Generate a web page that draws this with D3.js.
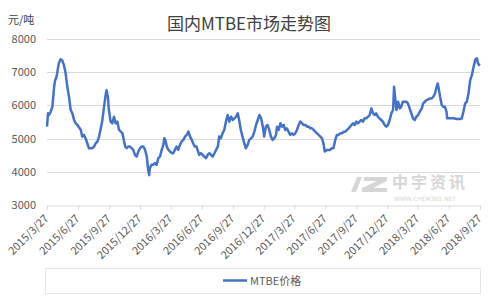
<!DOCTYPE html>
<html>
<head>
<meta charset="utf-8">
<script src="https://cdn.jsdelivr.net/npm/d3@7/dist/d3.min.js"></script>
<style>
  html, body { margin: 0; padding: 0; background: #fff; }
  #chart { width: 499px; height: 299px; }
</style>
</head>
<body>
<div id="chart"></div>
<script>
// dates of each reading (YYYY-MM-DD)
const dates = [
  '2015-03-27','2015-03-30','2015-04-02','2015-04-07','2015-04-12','2015-04-17','2015-04-20','2015-04-23','2015-04-26','2015-05-01',
  '2015-05-06','2015-05-11','2015-05-16','2015-05-21','2015-05-26','2015-05-31','2015-06-05','2015-06-10','2015-06-15','2015-06-20',
  '2015-06-25','2015-07-05','2015-07-09','2015-07-14','2015-07-19','2015-07-24','2015-07-29','2015-08-08','2015-08-13','2015-08-18',
  '2015-08-23','2015-08-28','2015-09-02','2015-09-06','2015-09-11','2015-09-17','2015-09-19','2015-09-23','2015-09-26','2015-10-01',
  '2015-10-06','2015-10-11','2015-10-16','2015-10-21','2015-10-26','2015-10-31','2015-11-05','2015-11-13','2015-11-18','2015-11-22',
  '2015-11-27','2015-12-02','2015-12-07','2015-12-12','2015-12-17','2015-12-22','2015-12-27','2016-01-01','2016-01-06','2016-01-11',
  '2016-01-16','2016-01-20','2016-01-23','2016-01-25','2016-01-30','2016-02-04','2016-02-09','2016-02-14','2016-02-19','2016-02-24',
  '2016-02-29','2016-03-05','2016-03-08','2016-03-12','2016-03-15','2016-03-20','2016-03-25','2016-03-30','2016-04-03','2016-04-08',
  '2016-04-13','2016-04-18','2016-04-23','2016-04-28','2016-05-03','2016-05-08','2016-05-13','2016-05-18','2016-05-23','2016-05-28',
  '2016-06-01','2016-06-06','2016-06-11','2016-06-14','2016-06-19','2016-06-24','2016-06-29','2016-07-04','2016-07-09','2016-07-14',
  '2016-07-19','2016-07-24','2016-07-29','2016-08-03','2016-08-08','2016-08-13','2016-08-17','2016-08-22','2016-08-27','2016-09-01',
  '2016-09-06','2016-09-11','2016-09-16','2016-09-21','2016-09-26','2016-10-01','2016-10-06','2016-10-11','2016-10-15','2016-10-20',
  '2016-10-25','2016-10-30','2016-11-04','2016-11-09','2016-11-14','2016-11-19','2016-11-24','2016-11-29','2016-12-04','2016-12-09',
  '2016-12-14','2016-12-19','2016-12-24','2016-12-28','2017-01-02','2017-01-07','2017-01-12','2017-01-17','2017-01-22','2017-01-27',
  '2017-02-01','2017-02-04','2017-02-09','2017-02-14','2017-02-19','2017-02-24','2017-02-28','2017-03-05','2017-03-10','2017-03-15',
  '2017-03-20','2017-03-25','2017-03-30','2017-04-04','2017-04-09','2017-04-14','2017-04-19','2017-04-24','2017-04-29','2017-05-04',
  '2017-05-09','2017-05-13','2017-05-18','2017-05-23','2017-05-28','2017-06-02','2017-06-07','2017-06-12','2017-06-17','2017-06-22',
  '2017-06-25','2017-07-02','2017-07-07','2017-07-11','2017-07-16','2017-07-21','2017-07-26','2017-07-31','2017-08-05','2017-08-10',
  '2017-08-15','2017-08-20','2017-08-25','2017-08-30','2017-09-04','2017-09-12','2017-09-17','2017-09-22','2017-09-26','2017-10-01',
  '2017-10-06','2017-10-11','2017-10-16','2017-10-21','2017-10-26','2017-10-31','2017-11-05','2017-11-10','2017-11-15','2017-11-20',
  '2017-11-24','2017-11-29','2017-12-04','2017-12-09','2017-12-14','2017-12-19','2017-12-24','2017-12-29','2018-01-03','2018-01-08',
  '2018-01-13','2018-01-16','2018-01-19','2018-01-23','2018-01-28','2018-02-02','2018-02-06','2018-02-11','2018-02-16','2018-02-21',
  '2018-02-26','2018-03-03','2018-03-08','2018-03-13','2018-03-18','2018-03-23','2018-03-28','2018-04-02','2018-04-08','2018-04-12',
  '2018-04-17','2018-04-22','2018-04-27','2018-05-02','2018-05-07','2018-05-12','2018-05-17','2018-05-22','2018-05-25','2018-05-28',
  '2018-06-01','2018-06-06','2018-06-10','2018-06-15','2018-06-20','2018-06-22','2018-06-30','2018-07-10','2018-07-20','2018-07-30',
  '2018-08-04','2018-08-09','2018-08-14','2018-08-19','2018-08-24','2018-08-29','2018-09-03','2018-09-08','2018-09-13','2018-09-18',
  '2018-09-21','2018-09-24','2018-09-27'
];

// MTBE价格, 元/吨
const prices = [
  5360,5760,5710,5810,5960,6560,6760,6820,6970,7270,
  7390,7350,7220,6970,6560,6260,5860,5760,5560,5460,
  5410,5260,5060,5110,5010,4860,4710,4710,4760,4860,
  4910,5060,5310,5510,5910,6360,6460,6260,5860,5510,
  5460,5660,5460,5510,5260,5210,5160,4760,4710,4760,
  4760,4710,4660,4510,4460,4610,4710,4760,4760,4660,
  4460,4060,3900,4110,4210,4210,4260,4210,4410,4460,
  4660,4810,5010,4910,4760,4660,4610,4560,4560,4660,
  4760,4660,4810,4910,4960,5060,5110,5210,5060,4960,
  4860,4760,4760,4660,4510,4560,4510,4460,4410,4510,
  4560,4510,4460,4560,4660,4760,5060,5010,5160,5260,
  5510,5710,5510,5660,5560,5610,5660,5760,5560,5260,
  5060,4860,4710,4810,4960,5010,5060,5210,5410,5560,
  5710,5610,5360,5060,5360,5410,5260,5060,4960,5010,
  5110,5360,5260,5460,5360,5410,5260,5310,5210,5110,
  5160,5110,5160,5260,5410,5510,5460,5410,5410,5360,
  5360,5310,5310,5260,5210,5160,5110,5060,5010,4810,
  4610,4660,4660,4660,4710,4710,4960,5110,5110,5160,
  5160,5210,5210,5260,5310,5410,5460,5410,5510,5460,
  5510,5560,5510,5610,5610,5660,5710,5910,5760,5710,
  5760,5660,5610,5560,5510,5410,5360,5410,5560,5760,
  5860,6560,6260,5860,6110,5910,5960,6110,6110,6110,
  6060,5910,5760,5610,5560,5660,5710,5810,5910,6060,
  6110,6160,6180,6210,6210,6260,6360,6560,6660,6510,
  6260,6010,5960,5960,5810,5610,5610,5610,5590,5590,
  5610,5810,6060,6110,6360,6760,6910,7160,7370,7420,
  7270,7220,7200
];

const yTicks = [3000, 4000, 5000, 6000, 7000, 8000];
const xTicks = [
  '2015-03-27','2015-06-27','2015-09-27','2015-12-27','2016-03-27','2016-06-27','2016-09-27',
  '2016-12-27','2017-03-27','2017-06-27','2017-09-27','2017-12-27','2018-03-27','2018-06-27','2018-09-27'
];

const parse = d3.timeParse('%Y-%m-%d');
const data = dates.map((d, i) => ({ date: parse(d), v: prices[i] }));

const totalW = 499, totalH = 299;
const margin = { top: 39, right: 19, bottom: 94, left: 47 };
const W = totalW - margin.left - margin.right;
const H = totalH - margin.top - margin.bottom;

const font = "'Noto Sans CJK SC', 'Noto Sans', sans-serif";

const svg = d3.select('#chart').append('svg')
  .attr('width', totalW).attr('height', totalH)
  .style('font-family', font);

svg.append('rect').attr('width', totalW).attr('height', totalH).attr('fill', '#fff');

const g = svg.append('g').attr('transform', `translate(${margin.left},${margin.top})`);

const x = d3.scaleTime().domain([parse(xTicks[0]), parse(xTicks[xTicks.length - 1])]).range([0, W]);
const y = d3.scaleLinear().domain([3000, 8000]).range([H, 0]);

// Grid
g.append('g').selectAll('line')
  .data(yTicks.slice(1)).enter().append('line')
  .attr('x1', 0).attr('x2', W)
  .attr('y1', d => Math.round(y(d)) + 0.5).attr('y2', d => Math.round(y(d)) + 0.5)
  .attr('stroke', '#d9d9d9').attr('stroke-width', 1);

// Y axis labels
const yAxis = g.append('g').call(d3.axisLeft(y).tickValues(yTicks).tickSize(0).tickPadding(11).tickFormat(d3.format('d')));
yAxis.select('.domain').remove();
yAxis.selectAll('text').attr('fill', '#595959').attr('font-size', '11px').attr('font-family', font);

// X axis
const xAxis = g.append('g').attr('transform', `translate(0,${Math.round(H) + 0.5})`)
  .call(d3.axisBottom(x).tickValues(xTicks.map(parse)).tickSize(4).tickFormat(d3.timeFormat('%Y/%-m/%-d')));
xAxis.select('.domain').attr('stroke', '#d9d9d9');
xAxis.selectAll('line').attr('stroke', '#d9d9d9');
xAxis.selectAll('text')
  .attr('fill', '#595959').attr('font-size', '11px').attr('font-family', font)
  .attr('text-anchor', 'end')
  .attr('dy', '0.35em')
  .attr('transform', 'translate(-1,11) rotate(-45)')
  .attr('x', 0).attr('y', 0);

// Watermark
const wm = svg.append('g').attr('fill', '#d6d6d6');
wm.append('path').attr('d',
  'M357,177 L362,177 L356,192 L351,192 Z ' +
  'M364,177 L387,177 L387,181 L373,188 L387,188 L387,192 L362,192 L362,188 L377,181 L364,181 Z');
wm.append('text').attr('x', 392).attr('y', 188)
  .attr('font-size', '16px').attr('font-weight', 'bold').attr('letter-spacing', '3px').text('中宇资讯');
wm.append('text').attr('x', 394).attr('y', 201)
  .attr('font-size', '6px').attr('font-family', "'DejaVu Sans', sans-serif").text('WWW.CHEM365.NET');

// Line
const line = d3.line().x(d => x(d.date)).y(d => y(d.v));
g.append('path').datum(data)
  .attr('fill', 'none').attr('stroke', '#4472c4')
  .attr('stroke-width', 2.5).attr('stroke-linejoin', 'round')
  .attr('d', line);

// Title
svg.append('text').attr('x', 249).attr('y', 30)
  .attr('text-anchor', 'middle').attr('fill', '#404040')
  .attr('font-size', '17px').text('国内MTBE市场走势图');

// Unit label
svg.append('text').attr('x', 8).attr('y', 24)
  .attr('fill', '#404040').attr('font-size', '11px').text('元/吨');

// Legend
const leg = svg.append('g');
leg.append('rect').attr('x', 45.5).attr('y', 268.5).attr('width', 435).attr('height', 25)
  .attr('fill', 'none').attr('stroke', '#e6e6e6');
leg.append('line').attr('x1', 223).attr('x2', 247).attr('y1', 280.5).attr('y2', 280.5)
  .attr('stroke', '#4472c4').attr('stroke-width', 2.5);
leg.append('text').attr('x', 250).attr('y', 285)
  .attr('fill', '#595959').attr('font-size', '11px').text('MTBE价格');
</script>
</body>
</html>
